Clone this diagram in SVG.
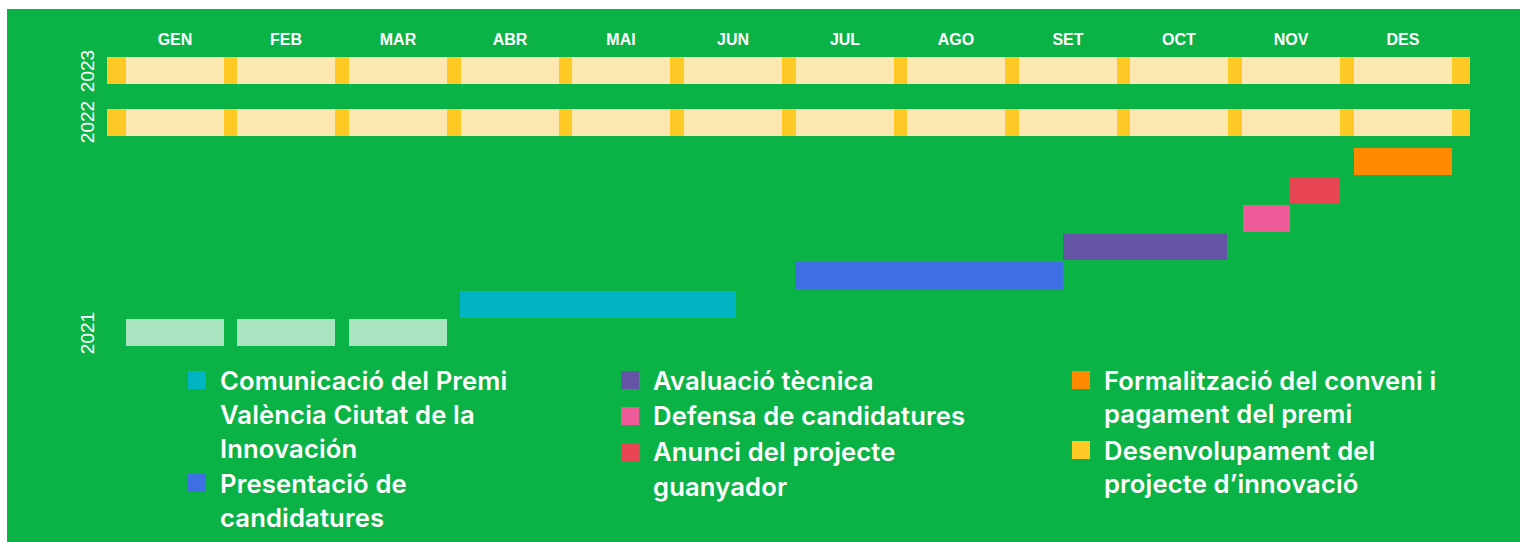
<svg xmlns="http://www.w3.org/2000/svg" width="1520" height="542" viewBox="0 0 1520 542">
<style>
.mon{font-family:"Liberation Sans",Arial,sans-serif;font-weight:bold;font-size:16px;fill:#fff;text-anchor:middle}
.yr{font-family:"Liberation Sans",Arial,sans-serif;font-size:19px;fill:#fff;text-anchor:middle}
.leg{font-family:Inter,"Noto Sans",sans-serif;font-weight:600;font-size:25.6px;fill:#fff;letter-spacing:0.15px}
.track{fill:#FEC825}
.cell{fill:#FEE8B2}
.cell21{fill:#A8E4BF}
</style>
<defs>
<g id="row">
<rect class="track" x="107" y="0" width="1363" height="27"/>
<rect class="cell" x="126" y="0" width="98" height="27"/>
<rect class="cell" x="237" y="0" width="98" height="27"/>
<rect class="cell" x="349" y="0" width="98" height="27"/>
<rect class="cell" x="461" y="0" width="98" height="27"/>
<rect class="cell" x="572" y="0" width="98" height="27"/>
<rect class="cell" x="684" y="0" width="98" height="27"/>
<rect class="cell" x="796" y="0" width="98" height="27"/>
<rect class="cell" x="907" y="0" width="98" height="27"/>
<rect class="cell" x="1019" y="0" width="98" height="27"/>
<rect class="cell" x="1130" y="0" width="98" height="27"/>
<rect class="cell" x="1242" y="0" width="98" height="27"/>
<rect class="cell" x="1354" y="0" width="98" height="27"/>
</g>
</defs>
<rect x="0" y="0" width="1520" height="542" fill="#fff"/>
<rect x="7" y="9" width="1513" height="533" fill="#0BB347"/>
<g id="months">
<text class="mon" x="175" y="45">GEN</text>
<text class="mon" x="286" y="45">FEB</text>
<text class="mon" x="398" y="45">MAR</text>
<text class="mon" x="510" y="45">ABR</text>
<text class="mon" x="621" y="45">MAI</text>
<text class="mon" x="733" y="45">JUN</text>
<text class="mon" x="845" y="45">JUL</text>
<text class="mon" x="956" y="45">AGO</text>
<text class="mon" x="1068" y="45">SET</text>
<text class="mon" x="1179" y="45">OCT</text>
<text class="mon" x="1291" y="45">NOV</text>
<text class="mon" x="1403" y="45">DES</text>
</g>
<g id="years">
<text class="yr" transform="translate(94,71) rotate(-90)">2023</text>
<text class="yr" transform="translate(94,122) rotate(-90)">2022</text>
<text class="yr" transform="translate(94,333) rotate(-90)">2021</text>
</g>
<g id="row2023"><use href="#row" y="57"/></g>
<g id="row2022"><use href="#row" y="109"/></g>
<g id="row2021">
<rect class="cell21" x="126" y="319" width="98" height="27"/>
<rect class="cell21" x="237" y="319" width="98" height="27"/>
<rect class="cell21" x="349" y="319" width="98" height="27"/>
</g>
<g id="bars">
<rect x="460" y="291" width="276" height="27" fill="#00B4C4"/>
<rect x="795" y="262" width="268" height="27" fill="#3E6FE3"/>
<rect x="1063" y="234" width="164" height="26" fill="#6553A5"/>
<rect x="1243" y="205" width="47" height="27" fill="#EF5B98"/>
<rect x="1289" y="177" width="51" height="27" fill="#E94654"/>
<rect x="1354" y="148" width="98" height="27" fill="#FF8A00"/>
</g>
<g id="legend1">
<rect x="188" y="371" width="18" height="18" fill="#00B4C4"/>
<text class="leg" x="220" y="390">Comunicació del Premi</text>
<text class="leg" x="220" y="424">València Ciutat de la</text>
<text class="leg" x="220" y="458">Innovación</text>
<rect x="188" y="474" width="18" height="18" fill="#3E6FE3"/>
<text class="leg" x="220" y="493">Presentació de</text>
<text class="leg" x="220" y="527">candidatures</text>
</g>
<g id="legend2">
<rect x="621" y="371" width="18" height="18" fill="#6553A5"/>
<text class="leg" x="653" y="390">Avaluació tècnica</text>
<rect x="621" y="407" width="18" height="18" fill="#EF5B98"/>
<text class="leg" x="653" y="425">Defensa de candidatures</text>
<rect x="621" y="443" width="18" height="18" fill="#E94654"/>
<text class="leg" x="653" y="461">Anunci del projecte</text>
<text class="leg" x="653" y="496">guanyador</text>
</g>
<g id="legend3">
<rect x="1072" y="371" width="18" height="18" fill="#FF8A00"/>
<text class="leg" x="1104" y="390">Formalització del conveni i</text>
<text class="leg" x="1104" y="423">pagament del premi</text>
<rect x="1072" y="441" width="18" height="18" fill="#FEC825"/>
<text class="leg" x="1104" y="460">Desenvolupament del</text>
<text class="leg" x="1104" y="493">projecte d’innovació</text>
</g>
</svg>
